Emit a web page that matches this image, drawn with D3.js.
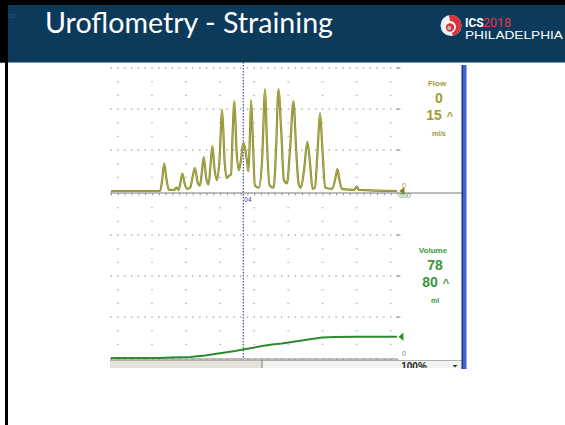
<!DOCTYPE html>
<html><head><meta charset="utf-8">
<script src="https://cdn.jsdelivr.net/npm/d3@7"></script>
<style>
html,body{margin:0;padding:0;background:#fff;}
svg{display:block;}
</style></head><body>
<svg id="c" width="565" height="425"></svg>
<script>
// Flow trace samples: time (s) and flow rate (ml/s)
const flowTime = [0,14.4,15.0,15.6,16.3,17.0,18.5,19.3,19.8,20.4,20.9,21.6,22.3,23.2,24.0,24.6,25.4,26.1,26.7,27.2,27.9,28.6,29.2,29.7,30.4,31.1,31.8,32.6,33.3,33.9,34.6,35.2,35.6,36.2,36.8,37.5,38.1,38.8,39.3,39.9,40.3,40.8,41.1,41.6,42.2,43.4,44.3,45.2,45.7,46.5,47.7,48.4,49.1,49.9,50.7,51.6,52.5,53.5,54.3,55.0,55.7,56.6,57.6,58.4,59.1,59.8,60.6,61.3,62.0,62.8,64.8,65.7,66.4,67.0,67.7,71.3,72.1,72.7,83.9];
const flowRate = [0,0,1.0,2.5,1.0,0.1,0.1,0.3,0.1,0.8,1.6,0.7,0.2,0.3,1.4,2.1,0.8,0.5,1.9,3.1,1.2,0.6,2.4,4.1,1.9,1.0,2.8,7.4,2.8,1.2,1.4,1.5,4.7,8.2,3.8,1.9,2.8,4.4,3.9,2.7,1.8,5.6,8.3,4.7,0.5,0.3,2.8,9.3,4.7,0.5,0.3,3.8,9.3,5.6,1.0,0.7,3.8,8.2,3.8,0.7,0.3,1.9,4.5,2.4,0.2,0.3,3.8,7.1,3.8,0.3,0.2,1.0,2.0,1.0,0.2,0.1,0.4,0.1,0];

// Voided volume samples: time (s) and volume (ml)
const volTime  = [0,14.4,17.3,23.2,27.6,30.5,33.4,36.4,38.7,41.3,44.3,47.2,50.1,54.0,57.8,61.9,65.7,72.4,83.9];
const volValue = [0,0,1.8,3.7,9.1,14.6,20.1,25.6,31.1,36.6,43.9,49.4,53.0,60.4,67.7,75.0,76.8,78,78];

// Axis ranges and grid
const timeRange = [0, 84];
const flowRange = [0, 15];
const volRange  = [0, 600];
const gridTimes = [2,12,22,32,42,52,62,72,82];
const flowMinor = 1.25, volMinor = 50;
const cursorTime = 38.8, cursorLabel = "04";

// Readout panels
const flowReadout = {name: "Flow", value: "0", scale: "15", unit: "ml/s"};
const volReadout  = {name: "Volume", value: "78", scale: "80", unit: "ml"};
const flowAxisLabels = ["0"];
const volAxisLabels = ["600", "0"];

const titleText = "Uroflometry - Straining";

const svg = d3.select("#c");
svg.append("rect").attr("width",565).attr("height",425).attr("fill","#fff");

// ---- recorder window ----
const defs = svg.append("defs");
defs.append("clipPath").attr("id","win").append("rect")
  .attr("x",110).attr("y",62).attr("width",358).attr("height",307);
defs.append("clipPath").attr("id","bar").append("rect")
  .attr("x",110).attr("y",358).attr("width",358).attr("height",10);

const win = svg.append("g").attr("clip-path","url(#win)");

const x = d3.scaleLinear().domain(timeRange).range([111, 111 + 84*3.41]);
const yFlow = d3.scaleLinear().domain(flowRange).range([191, 27]);
const yVol  = d3.scaleLinear().domain(volRange).range([358, 194]);

const flowText = "#9d9d33";
const volCol = "#2f8a2f", volText = "#3a973a";

function grid(yScale, domain, minor) {
  const g = win.append("g");
  const n = Math.round((domain[1]-domain[0]) / minor);
  const evens = d3.range(0, 85, 2);
  for (let k = 1; k < n; k++) {
    const yy = yScale(domain[0] + k*minor);
    if (yy < 63) continue;
    if (k % 3 === 0) {
      g.selectAll(null).data(evens).join("rect")
        .attr("x", d => x(d) - 0.6).attr("y", yy - 0.6)
        .attr("width", 1.4).attr("height", 1.4).attr("fill", "#a9a9a9");
      g.append("rect").attr("x", x(84)-1).attr("y", yy-0.5).attr("width", 4).attr("height", 1.2).attr("fill","#999");
    } else {
      g.selectAll(null).data(gridTimes).join("rect")
        .attr("x", d => x(d) - 1).attr("y", yy - 0.6)
        .attr("width", 2).attr("height", 1.3).attr("fill", "#c4c4c4");
    }
  }
}
grid(yFlow, [0, 24], flowMinor);
grid(yVol, volRange, volMinor);

// time axes
function timeAxis(yy, len) {
  const ax = d3.axisBottom(x).tickValues(d3.range(0, 85, 2)).tickSize(2.5).tickSizeOuter(0).tickFormat("");
  const g = win.append("g").attr("transform", `translate(0,${yy})`).call(ax);
  g.select(".domain").remove();
  g.selectAll(".tick line").attr("stroke", "#9a9a9a");
  win.append("line").attr("x1",110).attr("x2",len).attr("y1",yy).attr("y2",yy)
    .attr("stroke","#7a7a7a").attr("stroke-width",1.2);
}
timeAxis(193, 462);
timeAxis(359, x(84));

// cursor
win.append("line").attr("x1", x(cursorTime)).attr("x2", x(cursorTime))
  .attr("y1", 62).attr("y2", 359)
  .attr("stroke", "#3a3aa8").attr("stroke-width", 1.1).attr("stroke-dasharray", "1.4,1.6");
win.append("text").attr("x", x(cursorTime)+1).attr("y", 201.5)
  .attr("font-family","Liberation Sans, Arial").attr("font-size",6.5).attr("fill","#4040b0").text(cursorLabel);

// flow trace
const flowPts = flowTime.map((t,i) => [t, flowRate[i]]);
const flowLine = d3.line().x(d => x(d[0])).y(d => yFlow(d[1])).curve(d3.curveMonotoneX);
win.append("path").attr("d", flowLine(flowPts)).attr("fill","none")
  .attr("stroke", "#86862a").attr("stroke-width", 2.2).attr("stroke-linejoin","round");
win.append("path").attr("d", flowLine(flowPts)).attr("fill","none")
  .attr("stroke", "#c2c264").attr("stroke-width", 0.7).attr("stroke-linejoin","round");

// volume trace
const volPts = volTime.map((t,i) => [t, volValue[i]]);
const volLine = d3.line().x(d => x(d[0])).y(d => yVol(d[1]));
win.append("path").attr("d", volLine(volPts)).attr("fill","none")
  .attr("stroke", volCol).attr("stroke-width", 2);

// end markers
function marker(px, py, col) {
  win.append("path").attr("d", `M${px},${py} L${px+5},${py-4} L${px+5},${py+4} Z`).attr("fill", col);
}
marker(x(84)+2, yFlow(flowRate[flowRate.length-1]), "#7d7d22");
marker(x(84)+1, yVol(volValue[volValue.length-1]), volCol);

// axis end labels
const lab = (t, xx, yy, col) => win.append("text").attr("x", xx).attr("y", yy)
  .attr("font-family","Liberation Sans, Arial").attr("font-size",7).attr("font-style","italic")
  .attr("fill", col).text(t);
lab(flowAxisLabels[0], 402, yFlow(0)-3, flowText);
lab(volAxisLabels[0], 399, yVol(600)+4, "#5a9a5a");
lab(volAxisLabels[1], 402, yVol(0)-2, "#5a9a5a");

// readouts
function readout(r, col, top) {
  const f = "Liberation Sans, Arial";
  win.append("text").attr("x", top.x).attr("y", top.y).attr("text-anchor","middle")
    .attr("font-family",f).attr("font-weight","bold").attr("font-size",8).attr("fill",col).text(r.name);
  win.append("text").attr("x", top.x+2).attr("y", top.y+17).attr("text-anchor","middle")
    .attr("font-family",f).attr("font-weight","bold").attr("font-size",14).attr("fill",col).text(r.value);
  win.append("text").attr("x", top.x-3).attr("y", top.y+34).attr("text-anchor","middle")
    .attr("font-family",f).attr("font-weight","bold").attr("font-size",14).attr("fill",col).text(r.scale);
  win.append("text").attr("x", top.x+13).attr("y", top.y+34).attr("text-anchor","middle")
    .attr("font-family",f).attr("font-weight","bold").attr("font-size",11).attr("fill",col).text("^");
  win.append("text").attr("x", top.x+2).attr("y", top.y+50).attr("text-anchor","middle")
    .attr("font-family",f).attr("font-weight","bold").attr("font-size",7).attr("fill",col).text(r.unit);
}
readout(flowReadout, flowText, {x: 437, y: 86});
readout(volReadout, volText, {x: 433, y: 253});

// status bar
const sb = svg.append("g").attr("clip-path","url(#bar)");
sb.append("rect").attr("x",110).attr("y",360).attr("width",152).attr("height",10).attr("fill","#e6e3dc");
sb.append("rect").attr("x",262).attr("y",360).attr("width",200).attr("height",10).attr("fill","#f3f3f1");
sb.append("line").attr("x1",110).attr("x2",462).attr("y1",360.5).attr("y2",360.5).attr("stroke","#b0b0b0");
sb.append("line").attr("x1",262).attr("x2",262).attr("y1",360).attr("y2",370).attr("stroke","#8a8a8a").attr("stroke-width",1.2);
sb.append("text").attr("x",414).attr("y",370).attr("text-anchor","middle")
  .attr("font-family","Liberation Sans, Arial").attr("font-weight","bold").attr("font-size",10).attr("fill","#222").text("100%");
sb.append("path").attr("d","M452.5,365 L457.5,365 L455,367.5 Z").attr("fill","#333");

// window right edge
svg.append("rect").attr("x",462).attr("y",65).attr("width",4.5).attr("height",304).attr("fill","#4063d4");
svg.append("rect").attr("x",461.5).attr("y",65).attr("width",1.3).attr("height",304).attr("fill","#1d2b8f");

// ---- slide header ----
svg.append("rect").attr("x",0).attr("y",0).attr("width",565).attr("height",62.5).attr("fill","#0c3a5b");
svg.append("rect").attr("x",0).attr("y",0).attr("width",565).attr("height",5).attr("fill","#000");
svg.append("rect").attr("x",0).attr("y",0).attr("width",7.5).attr("height",62.5).attr("fill","#000");
svg.append("rect").attr("x",5).attr("y",0).attr("width",3).attr("height",425).attr("fill","#000");
svg.append("text").attr("x",9).attr("y",18).attr("font-family","Liberation Sans, Arial")
  .attr("font-size",6).attr("fill","#24628f").text("13");

const title = svg.append("text").attr("x",45).attr("y",32.5)
  .attr("font-family","Lato, 'Open Sans', sans-serif").attr("font-size",28).attr("fill","#fff").text(titleText);
const tw = title.node().getComputedTextLength();
const fitSize = 28 * Math.sqrt(288 / tw);
title.attr("font-size", fitSize).attr("textLength", 288).attr("lengthAdjust","spacingAndGlyphs");

// emblem
const logo = svg.append("g").attr("transform","translate(451,25.5)");
logo.append("circle").attr("r",10.5).attr("fill","#eef0f2");
logo.append("path").attr("d", d3.arc()({innerRadius:0, outerRadius:10.5, startAngle:-0.2, endAngle:Math.PI*0.95})).attr("fill","#d9333b");
logo.append("circle").attr("cx",-1).attr("cy",1.5).attr("r",6).attr("fill","#ffffff");
logo.append("circle").attr("cx",-1).attr("cy",2).attr("r",4.2).attr("fill","#d9333b");
logo.append("circle").attr("cx",-1.8).attr("cy",2.6).attr("r",2).attr("fill","#b9bec4");

const narrow = "'Liberation Sans Narrow', 'Roboto', sans-serif";
svg.append("text").attr("x",465).attr("y",26.5).attr("font-family",narrow)
  .attr("font-weight","bold").attr("font-size",12).attr("fill","#fff").text("ICS");
svg.append("text").attr("x",483).attr("y",26.5).attr("font-family",narrow)
  .attr("font-size",12.5).attr("fill","#e8393f").text("2018");
svg.append("text").attr("x",465).attr("y",38.5).attr("font-family","Liberation Sans, Arial")
  .attr("font-size",11).attr("fill","#fff").attr("textLength",98).attr("lengthAdjust","spacingAndGlyphs").text("PHILADELPHIA");
</script>
</body></html>
